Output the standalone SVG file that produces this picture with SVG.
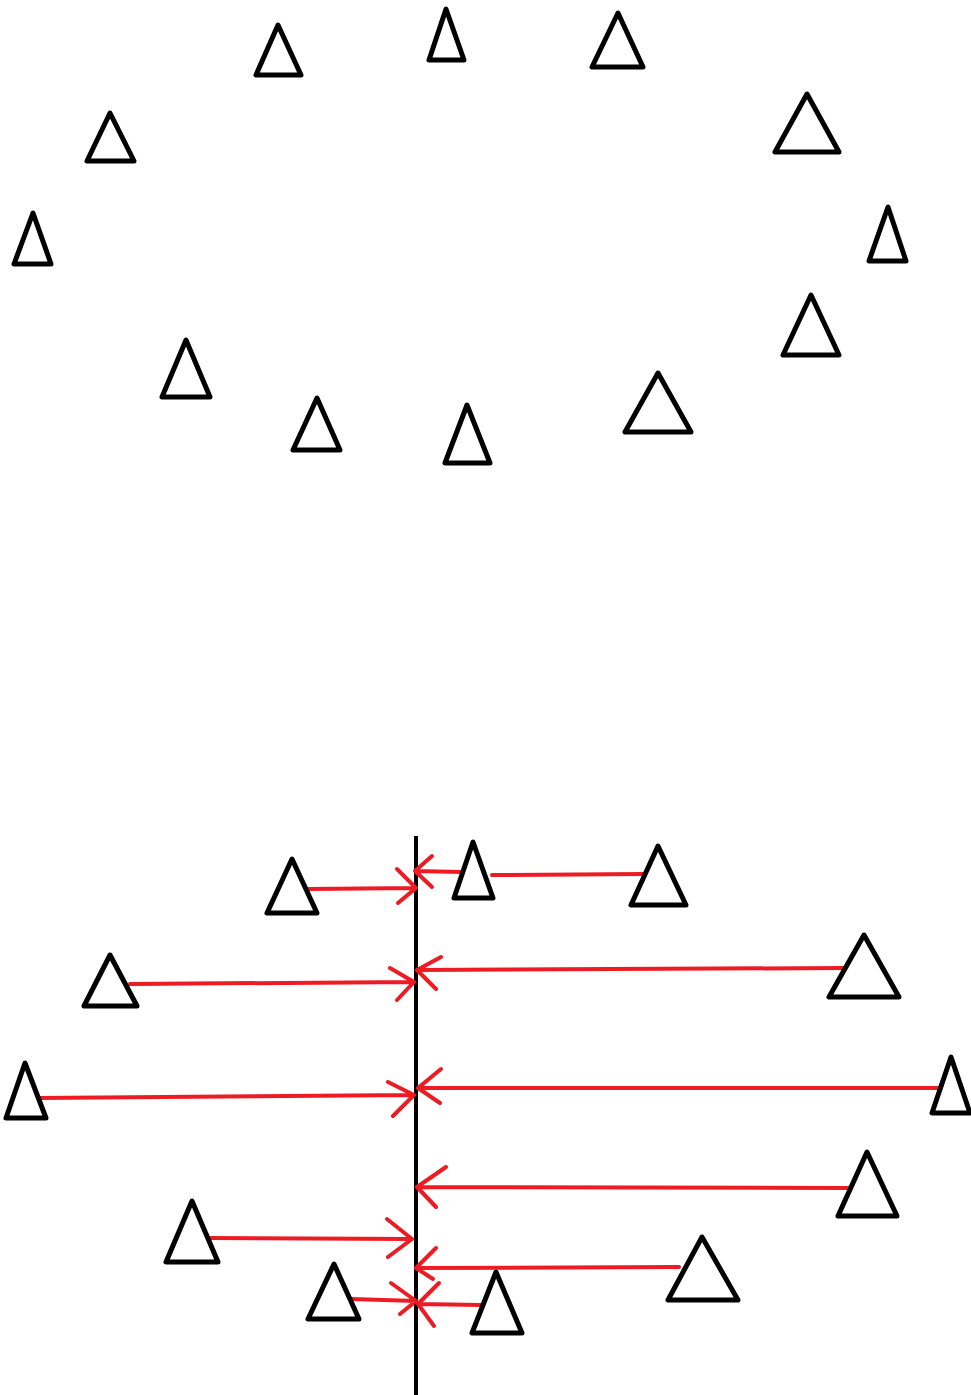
<svg xmlns="http://www.w3.org/2000/svg" width="971" height="1395" viewBox="0 0 971 1395">
<style>
.tri{fill:none;stroke:#000;stroke-width:5;stroke-linejoin:round;stroke-linecap:round}
.axis{stroke:#000;stroke-width:4;fill:none}
.arr{fill:none;stroke:#ED1C24;stroke-width:4;stroke-linecap:round;stroke-linejoin:round}
</style>
<rect width="971" height="1395" fill="#fff"/>
<g id="top">
<g id="t1"><polygon class="tri" points="278,25 256,75 301,75"/></g>
<g id="t2"><polygon class="tri" points="446,9 429,60 464,60"/></g>
<g id="t3"><polygon class="tri" points="110,113 87,161 134,161"/></g>
<g id="t4"><polygon class="tri" points="618,13 592,67 643,67"/></g>
<g id="t5"><polygon class="tri" points="807,94 775,152 839,152"/></g>
<g id="t6"><polygon class="tri" points="33,213 14,264 51,264"/></g>
<g id="t7"><polygon class="tri" points="186,340 162,397 210,397"/></g>
<g id="t8"><polygon class="tri" points="317,398 293,450 340,450"/></g>
<g id="t9"><polygon class="tri" points="467,405 445,463 490,463"/></g>
<g id="t10"><polygon class="tri" points="888,207 869,261 906,261"/></g>
<g id="t11"><polygon class="tri" points="811,295 783,355 839,355"/></g>
<g id="t12"><polygon class="tri" points="658,373 625,432 691,432"/></g>
</g>
<g id="axis"><line class="axis" x1="416" y1="836" x2="416" y2="1395"/></g>
<g id="connectors">
<path class="arr" d="M308,889 L416,888 M397,869 L416,888 L398,903"/>
<path class="arr" d="M462,872 L415,871 M432,856 L415,871 L432,887"/>
<path class="arr" d="M643,874 L492,875"/>
<path class="arr" d="M130,984 L414,982 M390,968 L414,982 L397,1000"/>
<path class="arr" d="M843,968 L417,970 M441,957 L417,970 L436,989"/>
<path class="arr" d="M38,1098 L414,1095 M388,1082 L414,1095 L393,1116"/>
<path class="arr" d="M940,1088 L418,1088 M441,1069 L418,1088 L440,1103"/>
<path class="arr" d="M850,1188 L417,1187 M446,1167 L417,1187 L436,1207"/>
<path class="arr" d="M211,1238 L412,1239 M387,1219 L412,1239 L388,1257"/>
<path class="arr" d="M679,1267 L416,1268 M436,1248 L416,1268 L433,1279"/>
<path class="arr" d="M351,1299 L416,1301 M391,1283 L416,1301 L400,1314"/>
<path class="arr" d="M481,1305 L418,1304 M439,1283 L418,1304 L434,1326"/>
</g>
<g id="bottom">
<g id="b1"><polygon class="tri" points="292,859 267,913 317,913"/></g>
<g id="b2"><polygon class="tri" points="473,842 454,898 493,898"/></g>
<g id="b3"><polygon class="tri" points="658,846 631,905 686,905"/></g>
<g id="b4"><polygon class="tri" points="110,955 84,1006 137,1006"/></g>
<g id="b5"><polygon class="tri" points="864,935 829,997 899,997"/></g>
<g id="b6"><polygon class="tri" points="25,1063 6,1118 46,1118"/></g>
<g id="b7"><polygon class="tri" points="951,1057 932,1113 970,1113"/></g>
<g id="b8"><polygon class="tri" points="867,1152 838,1216 897,1216"/></g>
<g id="b9"><polygon class="tri" points="192,1201 166,1262 218,1262"/></g>
<g id="b10"><polygon class="tri" points="702,1237 668,1300 738,1300"/></g>
<g id="b11"><polygon class="tri" points="334,1264 308,1319 359,1319"/></g>
<g id="b12"><polygon class="tri" points="496,1272 472,1333 522,1333"/></g>
</g>
</svg>
